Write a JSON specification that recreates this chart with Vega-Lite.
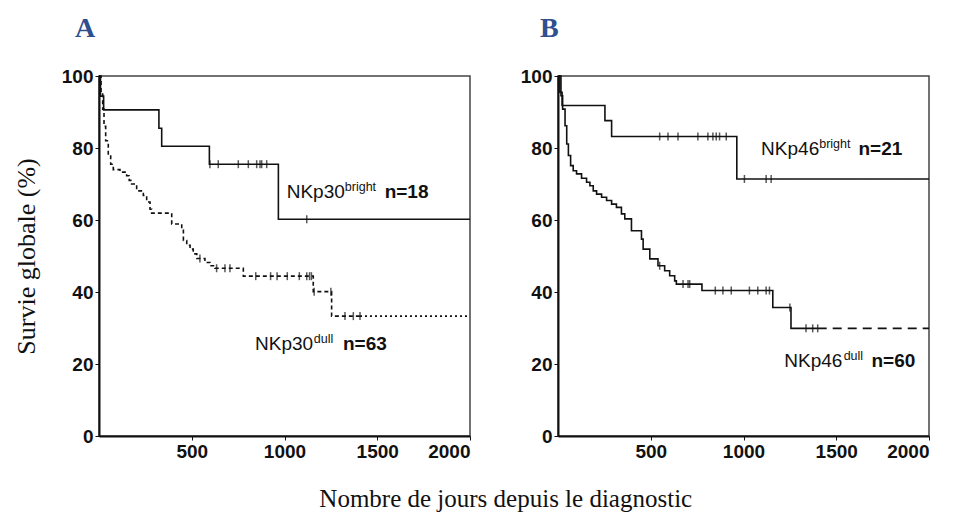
{
  "$schema": "https://vega.github.io/schema/vega-lite/v6.json",
  "background": "white",
  "padding": {"left": 12, "top": 14, "right": 5, "bottom": 5},
  "config": {
    "view": {"stroke": "#444", "strokeWidth": 1.5},
    "axis": {
      "labelFont": "Liberation Sans", "labelFontWeight": "bold", "labelFontSize": 19, "labelColor": "#111",
      "domainColor": "#111", "domainWidth": 2, "tickColor": "#111", "tickSize": 4, "grid": false,
      "titleFont": "Liberation Serif", "titleFontWeight": "normal", "titleFontSize": 26, "titleColor": "#111"
    }
  },
  "datasets": {
    "km": [
      {"panel": "A", "series": "bright", "style": "solid", "day": 0, "surv": 100},
      {"panel": "A", "series": "bright", "style": "solid", "day": 8, "surv": 94.4},
      {"panel": "A", "series": "bright", "style": "solid", "day": 25, "surv": 90.6},
      {"panel": "A", "series": "bright", "style": "solid", "day": 323, "surv": 85.5},
      {"panel": "A", "series": "bright", "style": "solid", "day": 338, "surv": 80.5},
      {"panel": "A", "series": "bright", "style": "solid", "day": 595, "surv": 75.5},
      {"panel": "A", "series": "bright", "style": "solid", "day": 967, "surv": 60.2},
      {"panel": "A", "series": "bright", "style": "solid", "day": 2000, "surv": 60.2},

      {"panel": "A", "series": "dull", "style": "dashA", "day": 0, "surv": 100},
      {"panel": "A", "series": "dull", "style": "dashA", "day": 11, "surv": 95.5},
      {"panel": "A", "series": "dull", "style": "dashA", "day": 20, "surv": 90.8},
      {"panel": "A", "series": "dull", "style": "dashA", "day": 27, "surv": 86},
      {"panel": "A", "series": "dull", "style": "dashA", "day": 36, "surv": 82},
      {"panel": "A", "series": "dull", "style": "dashA", "day": 50, "surv": 78},
      {"panel": "A", "series": "dull", "style": "dashA", "day": 63, "surv": 75.5},
      {"panel": "A", "series": "dull", "style": "dashA", "day": 77, "surv": 74},
      {"panel": "A", "series": "dull", "style": "dashA", "day": 113, "surv": 73.3},
      {"panel": "A", "series": "dull", "style": "dashA", "day": 149, "surv": 72.3},
      {"panel": "A", "series": "dull", "style": "dashA", "day": 163, "surv": 71},
      {"panel": "A", "series": "dull", "style": "dashA", "day": 176, "surv": 70},
      {"panel": "A", "series": "dull", "style": "dashA", "day": 203, "surv": 68.1},
      {"panel": "A", "series": "dull", "style": "dashA", "day": 239, "surv": 66.8},
      {"panel": "A", "series": "dull", "style": "dashA", "day": 257, "surv": 65},
      {"panel": "A", "series": "dull", "style": "dashA", "day": 275, "surv": 63},
      {"panel": "A", "series": "dull", "style": "dashA", "day": 284, "surv": 61.9},
      {"panel": "A", "series": "dull", "style": "dashA", "day": 392, "surv": 58.9},
      {"panel": "A", "series": "dull", "style": "dashA", "day": 446, "surv": 57.5},
      {"panel": "A", "series": "dull", "style": "dashA", "day": 455, "surv": 54.3},
      {"panel": "A", "series": "dull", "style": "dashA", "day": 473, "surv": 53},
      {"panel": "A", "series": "dull", "style": "dashA", "day": 491, "surv": 51.9},
      {"panel": "A", "series": "dull", "style": "dashA", "day": 508, "surv": 50.6},
      {"panel": "A", "series": "dull", "style": "dashA", "day": 527, "surv": 49.3},
      {"panel": "A", "series": "dull", "style": "dashA", "day": 571, "surv": 48.2},
      {"panel": "A", "series": "dull", "style": "dashA", "day": 598, "surv": 47.3},
      {"panel": "A", "series": "dull", "style": "dashA", "day": 625, "surv": 46.6},
      {"panel": "A", "series": "dull", "style": "dashA", "day": 778, "surv": 44.4},
      {"panel": "A", "series": "dull", "style": "dashA", "day": 1155, "surv": 40.1},
      {"panel": "A", "series": "dull", "style": "dashA", "day": 1254, "surv": 33.3},
      {"panel": "A", "series": "dull", "style": "dashA", "day": 1407, "surv": 33.3},
      {"panel": "A", "series": "dulltail", "style": "dot", "day": 1407, "surv": 33.3},
      {"panel": "A", "series": "dulltail", "style": "dot", "day": 2000, "surv": 33.3},

      {"panel": "B", "series": "bright", "style": "solid", "day": 0, "surv": 100},
      {"panel": "B", "series": "bright", "style": "solid", "day": 10, "surv": 95.5},
      {"panel": "B", "series": "bright", "style": "solid", "day": 22, "surv": 91.8},
      {"panel": "B", "series": "bright", "style": "solid", "day": 253, "surv": 87.6},
      {"panel": "B", "series": "bright", "style": "solid", "day": 289, "surv": 83.2},
      {"panel": "B", "series": "bright", "style": "solid", "day": 964, "surv": 71.4},
      {"panel": "B", "series": "bright", "style": "solid", "day": 2000, "surv": 71.4},

      {"panel": "B", "series": "dull", "style": "solid", "day": 0, "surv": 100},
      {"panel": "B", "series": "dull", "style": "solid", "day": 16, "surv": 94.5},
      {"panel": "B", "series": "dull", "style": "solid", "day": 25, "surv": 90.8},
      {"panel": "B", "series": "dull", "style": "solid", "day": 38, "surv": 86.2},
      {"panel": "B", "series": "dull", "style": "solid", "day": 47, "surv": 81.1},
      {"panel": "B", "series": "dull", "style": "solid", "day": 56, "surv": 77.9},
      {"panel": "B", "series": "dull", "style": "solid", "day": 68, "surv": 75.1},
      {"panel": "B", "series": "dull", "style": "solid", "day": 82, "surv": 73.7},
      {"panel": "B", "series": "dull", "style": "solid", "day": 100, "surv": 72.8},
      {"panel": "B", "series": "dull", "style": "solid", "day": 127, "surv": 71.6},
      {"panel": "B", "series": "dull", "style": "solid", "day": 154, "surv": 70.5},
      {"panel": "B", "series": "dull", "style": "solid", "day": 172, "surv": 69.5},
      {"panel": "B", "series": "dull", "style": "solid", "day": 190, "surv": 68.1},
      {"panel": "B", "series": "dull", "style": "solid", "day": 208, "surv": 67.2},
      {"panel": "B", "series": "dull", "style": "solid", "day": 235, "surv": 66.3},
      {"panel": "B", "series": "dull", "style": "solid", "day": 262, "surv": 65.4},
      {"panel": "B", "series": "dull", "style": "solid", "day": 289, "surv": 64.4},
      {"panel": "B", "series": "dull", "style": "solid", "day": 315, "surv": 63.5},
      {"panel": "B", "series": "dull", "style": "solid", "day": 342, "surv": 61.7},
      {"panel": "B", "series": "dull", "style": "solid", "day": 360, "surv": 60.3},
      {"panel": "B", "series": "dull", "style": "solid", "day": 396, "surv": 57},
      {"panel": "B", "series": "dull", "style": "solid", "day": 450, "surv": 54.7},
      {"panel": "B", "series": "dull", "style": "solid", "day": 459, "surv": 51.9},
      {"panel": "B", "series": "dull", "style": "solid", "day": 495, "surv": 49.2},
      {"panel": "B", "series": "dull", "style": "solid", "day": 539, "surv": 47.3},
      {"panel": "B", "series": "dull", "style": "solid", "day": 575, "surv": 45.9},
      {"panel": "B", "series": "dull", "style": "solid", "day": 602, "surv": 44.5},
      {"panel": "B", "series": "dull", "style": "solid", "day": 629, "surv": 43.1},
      {"panel": "B", "series": "dull", "style": "solid", "day": 638, "surv": 42.2},
      {"panel": "B", "series": "dull", "style": "solid", "day": 776, "surv": 40.4},
      {"panel": "B", "series": "dull", "style": "solid", "day": 1158, "surv": 35.7},
      {"panel": "B", "series": "dull", "style": "solid", "day": 1256, "surv": 29.9},
      {"panel": "B", "series": "dull", "style": "solid", "day": 1400, "surv": 29.9},
      {"panel": "B", "series": "dulltail", "style": "dashB", "day": 1400, "surv": 29.9},
      {"panel": "B", "series": "dulltail", "style": "dashB", "day": 2000, "surv": 29.9}
    ],
    "cens": [
      {"panel": "A", "day": 598, "surv": 75.5}, {"panel": "A", "day": 643, "surv": 75.5}, {"panel": "A", "day": 751, "surv": 75.5},
      {"panel": "A", "day": 805, "surv": 75.5}, {"panel": "A", "day": 850, "surv": 75.5}, {"panel": "A", "day": 868, "surv": 75.5},
      {"panel": "A", "day": 877, "surv": 75.5}, {"panel": "A", "day": 904, "surv": 75.5}, {"panel": "A", "day": 1120, "surv": 60.2},
      {"panel": "A", "day": 544, "surv": 49.3},
      {"panel": "A", "day": 634, "surv": 46.6}, {"panel": "A", "day": 679, "surv": 46.6}, {"panel": "A", "day": 706, "surv": 46.6},
      {"panel": "A", "day": 845, "surv": 44.4}, {"panel": "A", "day": 925, "surv": 44.4}, {"panel": "A", "day": 960, "surv": 44.4},
      {"panel": "A", "day": 1015, "surv": 44.4}, {"panel": "A", "day": 1080, "surv": 44.4}, {"panel": "A", "day": 1120, "surv": 44.4},
      {"panel": "A", "day": 1135, "surv": 44.4}, {"panel": "A", "day": 1145, "surv": 44.4},
      {"panel": "A", "day": 1160, "surv": 40.1}, {"panel": "A", "day": 1250, "surv": 40.1},
      {"panel": "A", "day": 1326, "surv": 33.3}, {"panel": "A", "day": 1371, "surv": 33.3}, {"panel": "A", "day": 1407, "surv": 33.3},

      {"panel": "B", "day": 548, "surv": 83.2}, {"panel": "B", "day": 593, "surv": 83.2}, {"panel": "B", "day": 647, "surv": 83.2},
      {"panel": "B", "day": 754, "surv": 83.2}, {"panel": "B", "day": 808, "surv": 83.2}, {"panel": "B", "day": 835, "surv": 83.2},
      {"panel": "B", "day": 853, "surv": 83.2}, {"panel": "B", "day": 871, "surv": 83.2}, {"panel": "B", "day": 907, "surv": 83.2},
      {"panel": "B", "day": 1005, "surv": 71.4}, {"panel": "B", "day": 1122, "surv": 71.4}, {"panel": "B", "day": 1149, "surv": 71.4},
      {"panel": "B", "day": 548, "surv": 47.3},
      {"panel": "B", "day": 674, "surv": 42.2}, {"panel": "B", "day": 701, "surv": 42.2}, {"panel": "B", "day": 710, "surv": 42.2},
      {"panel": "B", "day": 848, "surv": 40.4}, {"panel": "B", "day": 889, "surv": 40.4}, {"panel": "B", "day": 934, "surv": 40.4},
      {"panel": "B", "day": 1032, "surv": 40.4}, {"panel": "B", "day": 1077, "surv": 40.4}, {"panel": "B", "day": 1122, "surv": 40.4},
      {"panel": "B", "day": 1140, "surv": 40.4},
      {"panel": "B", "day": 1250, "surv": 35.7},
      {"panel": "B", "day": 1337, "surv": 29.9}, {"panel": "B", "day": 1373, "surv": 29.9}, {"panel": "B", "day": 1400, "surv": 29.9}
    ],
    "lab": [
      {"panel": "A", "kind": "main", "day": 1012, "surv": 67.7, "text": "NKp30"},
      {"panel": "A", "kind": "sup", "day": 1325, "surv": 67.7, "text": "bright"},
      {"panel": "A", "kind": "n", "day": 1540, "surv": 67.7, "text": "n=18"},
      {"panel": "A", "kind": "main", "day": 841, "surv": 25.6, "text": "NKp30"},
      {"panel": "A", "kind": "sup", "day": 1158, "surv": 25.6, "text": "dull"},
      {"panel": "A", "kind": "n", "day": 1315, "surv": 25.6, "text": "n=63"},
      {"panel": "B", "kind": "main", "day": 1095, "surv": 79.7, "text": "NKp46"},
      {"panel": "B", "kind": "sup", "day": 1408, "surv": 79.7, "text": "bright"},
      {"panel": "B", "kind": "n", "day": 1620, "surv": 79.7, "text": "n=21"},
      {"panel": "B", "kind": "main", "day": 1220, "surv": 20.9, "text": "NKp46"},
      {"panel": "B", "kind": "sup", "day": 1540, "surv": 20.9, "text": "dull"},
      {"panel": "B", "kind": "n", "day": 1690, "surv": 20.9, "text": "n=60"}
    ]
  },
  "title": {"text": "Nombre de jours depuis le diagnostic", "orient": "bottom", "anchor": "middle", "font": "Liberation Serif", "fontSize": 25, "fontWeight": "normal", "color": "#111", "offset": 25, "dx": 33},
  "spacing": 45,
  "hconcat": [
    {
      "width": 371, "height": 360,
      "title": {"text": "A", "anchor": "start", "frame": "group", "dx": -24, "offset": 24, "font": "Liberation Serif", "fontSize": 28, "fontWeight": "bold", "color": "#2F4F8F"},
      "layer": [
        {
          "data": {"name": "km"},
          "transform": [{"filter": "datum.panel === 'A'"}],
          "mark": {"type": "line", "interpolate": "step-after", "color": "#111", "strokeWidth": 1.6},
          "encoding": {
            "x": {"field": "day", "type": "quantitative", "scale": {"domain": [0, 2000], "nice": false}, "axis": {"values": [500, 1000, 1500, 2000], "format": "d", "title": null, "labelDx": -8}},
            "y": {"field": "surv", "type": "quantitative", "scale": {"domain": [0, 100], "nice": false}, "axis": {"values": [0, 20, 40, 60, 80, 100], "format": "d", "title": "Survie globale (%)", "titlePadding": 22}},
            "detail": {"field": "series"},
            "strokeDash": {"field": "style", "type": "nominal", "scale": {"domain": ["solid", "dashA", "dot", "dashB"], "range": [[1, 0], [4, 3], [2, 3], [9, 6]]}, "legend": null}
          }
        },
        {
          "data": {"name": "cens"},
          "transform": [{"filter": "datum.panel === 'A'"}],
          "mark": {"type": "tick", "orient": "vertical", "size": 8, "thickness": 1.5, "color": "#111"},
          "encoding": {
            "x": {"field": "day", "type": "quantitative"},
            "y": {"field": "surv", "type": "quantitative"}
          }
        },
        {
          "data": {"name": "lab"},
          "transform": [{"filter": "datum.panel === 'A' && datum.kind === 'main'"}],
          "mark": {"type": "text", "align": "left", "baseline": "middle", "font": "Liberation Sans", "fontSize": 19, "color": "#111"},
          "encoding": {"x": {"field": "day", "type": "quantitative"}, "y": {"field": "surv", "type": "quantitative"}, "text": {"field": "text"}}
        },
        {
          "data": {"name": "lab"},
          "transform": [{"filter": "datum.panel === 'A' && datum.kind === 'sup'"}],
          "mark": {"type": "text", "align": "left", "baseline": "middle", "dy": -5, "font": "Liberation Sans", "fontSize": 12.5, "color": "#111"},
          "encoding": {"x": {"field": "day", "type": "quantitative"}, "y": {"field": "surv", "type": "quantitative"}, "text": {"field": "text"}}
        },
        {
          "data": {"name": "lab"},
          "transform": [{"filter": "datum.panel === 'A' && datum.kind === 'n'"}],
          "mark": {"type": "text", "align": "left", "baseline": "middle", "font": "Liberation Sans", "fontSize": 19, "fontWeight": "bold", "color": "#111"},
          "encoding": {"x": {"field": "day", "type": "quantitative"}, "y": {"field": "surv", "type": "quantitative"}, "text": {"field": "text"}}
        }
      ]
    },
    {
      "width": 371, "height": 360,
      "title": {"text": "B", "anchor": "start", "frame": "group", "dx": -18, "offset": 24, "font": "Liberation Serif", "fontSize": 28, "fontWeight": "bold", "color": "#2F4F8F"},
      "layer": [
        {
          "data": {"name": "km"},
          "transform": [{"filter": "datum.panel === 'B'"}],
          "mark": {"type": "line", "interpolate": "step-after", "color": "#111", "strokeWidth": 1.6},
          "encoding": {
            "x": {"field": "day", "type": "quantitative", "scale": {"domain": [0, 2000], "nice": false}, "axis": {"values": [500, 1000, 1500, 2000], "format": "d", "title": null, "labelDx": -8}},
            "y": {"field": "surv", "type": "quantitative", "scale": {"domain": [0, 100], "nice": false}, "axis": {"values": [0, 20, 40, 60, 80, 100], "format": "d", "title": null}},
            "detail": {"field": "series"},
            "strokeDash": {"field": "style", "type": "nominal", "scale": {"domain": ["solid", "dashA", "dot", "dashB"], "range": [[1, 0], [4, 3], [2, 3], [9, 6]]}, "legend": null}
          }
        },
        {
          "data": {"name": "cens"},
          "transform": [{"filter": "datum.panel === 'B'"}],
          "mark": {"type": "tick", "orient": "vertical", "size": 8, "thickness": 1.5, "color": "#111"},
          "encoding": {
            "x": {"field": "day", "type": "quantitative"},
            "y": {"field": "surv", "type": "quantitative"}
          }
        },
        {
          "data": {"name": "lab"},
          "transform": [{"filter": "datum.panel === 'B' && datum.kind === 'main'"}],
          "mark": {"type": "text", "align": "left", "baseline": "middle", "font": "Liberation Sans", "fontSize": 19, "color": "#111"},
          "encoding": {"x": {"field": "day", "type": "quantitative"}, "y": {"field": "surv", "type": "quantitative"}, "text": {"field": "text"}}
        },
        {
          "data": {"name": "lab"},
          "transform": [{"filter": "datum.panel === 'B' && datum.kind === 'sup'"}],
          "mark": {"type": "text", "align": "left", "baseline": "middle", "dy": -5, "font": "Liberation Sans", "fontSize": 12.5, "color": "#111"},
          "encoding": {"x": {"field": "day", "type": "quantitative"}, "y": {"field": "surv", "type": "quantitative"}, "text": {"field": "text"}}
        },
        {
          "data": {"name": "lab"},
          "transform": [{"filter": "datum.panel === 'B' && datum.kind === 'n'"}],
          "mark": {"type": "text", "align": "left", "baseline": "middle", "font": "Liberation Sans", "fontSize": 19, "fontWeight": "bold", "color": "#111"},
          "encoding": {"x": {"field": "day", "type": "quantitative"}, "y": {"field": "surv", "type": "quantitative"}, "text": {"field": "text"}}
        }
      ]
    }
  ]
}
